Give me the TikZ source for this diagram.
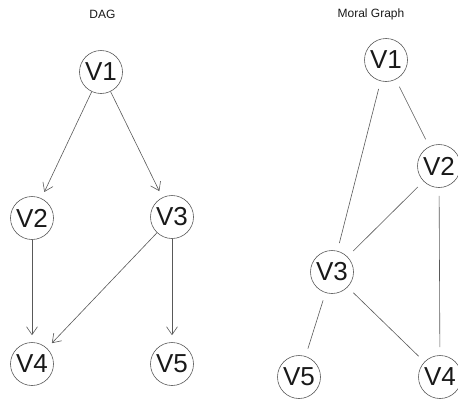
\documentclass[tikz,border=0pt]{standalone}
\usepackage{fontspec}
\setmainfont{Liberation Sans}
\usetikzlibrary{arrows.meta}
\begin{document}
\begin{tikzpicture}[x=1pt,y=-1pt,
  vnode/.style={circle,draw=black!65,line width=0.6pt,minimum size=43pt,inner sep=0pt,font=\fontsize{26}{26}\selectfont,text=black!90},
  ttl/.style={font=\fontsize{12}{12}\selectfont,text=black!90},
  dedge/.style={draw=black!65,line width=0.6pt,-{Straight Barb[length=8pt,width=11pt,line width=0.6pt]},shorten >=7pt},
  medge/.style={draw=black!65,line width=0.6pt,shorten >=8pt,shorten <=8pt}]
\useasboundingbox (0,0) rectangle (458,399);
\node[ttl] (t1) at (102.5,14) {DAG};
\node[ttl] (t2) at (371,14) {Moral Graph};
% DAG
\node[vnode] (a1) at (101,72) {V1};
\node[vnode] (a2) at (32,218) {V2};
\node[vnode] (a3) at (172,217) {V3};
\node[vnode] (a4) at (32,364) {V4};
\node[vnode] (a5) at (172,364) {V5};
\draw[dedge] (a1) -- (a2);
\draw[dedge] (a1) -- (a3);
\draw[dedge] (a2) -- (a4);
\draw[dedge] (a3) -- (a4);
\draw[dedge] (a3) -- (a5);
% Moral
\node[vnode] (m1) at (386,60) {V1};
\node[vnode] (m2) at (439,166) {V2};
\node[vnode] (m3) at (332,272) {V3};
\node[vnode] (m5) at (299,377) {V5};
\node[vnode] (m4) at (440,377) {V4};
\draw[medge] (m1) -- (m2);
\draw[medge] (m1) -- (m3);
\draw[medge] (m2) -- (m3);
\draw[medge] (m2) -- (m4);
\draw[medge] (m3) -- (m5);
\draw[medge] (m3) -- (m4);
\end{tikzpicture}
\end{document}
